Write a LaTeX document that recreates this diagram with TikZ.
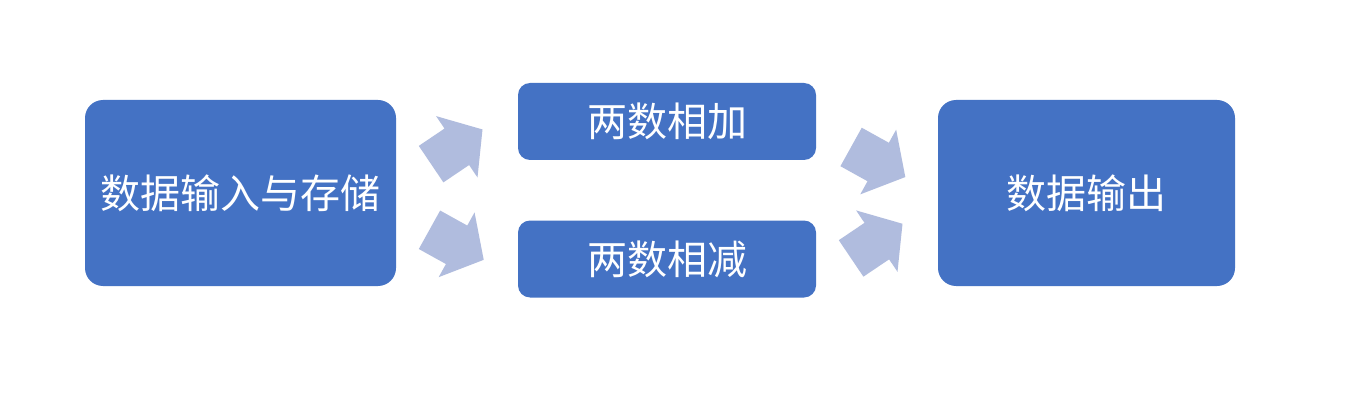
\documentclass[tikz,border=0pt]{standalone}
\usepackage{fontspec}
\newfontfamily\cjk{Noto Sans CJK SC}
\definecolor{boxblue}{RGB}{68,114,196}
\definecolor{arrowblue}{RGB}{176,188,222}
\newcommand\blockarr[3]{%
  \begin{scope}[shift={(#1,#2)},rotate=#3]
    \fill[arrowblue] (-31,-22) -- (0,-22) -- (0,-37) -- (31,0) -- (0,37) -- (0,22) -- (-31,22) -- cycle;
  \end{scope}}
\begin{document}
\begin{tikzpicture}[x=1pt,y=-1pt,
  box/.style={fill=boxblue, text=white, inner sep=0pt, font=\cjk\fontsize{40}{48}\selectfont},
  bigbox/.style={box, rounded corners=18pt, minimum width=311pt, minimum height=186pt},
  smallbox/.style={box, rounded corners=12pt, minimum width=298pt, minimum height=77pt}]
\useasboundingbox[fill=white] (0,0) rectangle (1346,406);
\node[bigbox] (input) at (240.5,193) {数据输入与存储};
\node[smallbox] (add) at (667,121.5) {两数相加};
\node[smallbox] (sub) at (667,259) {两数相减};
\node[bigbox, minimum width=297pt] (output) at (1086.5,193) {数据输出};
\blockarr{456.8}{146.8}{34}
\blockarr{456.6}{244.8}{-29}
\blockarr{878.2}{162.0}{-29}
\blockarr{876.8}{241.1}{34}
\end{tikzpicture}
\end{document}
